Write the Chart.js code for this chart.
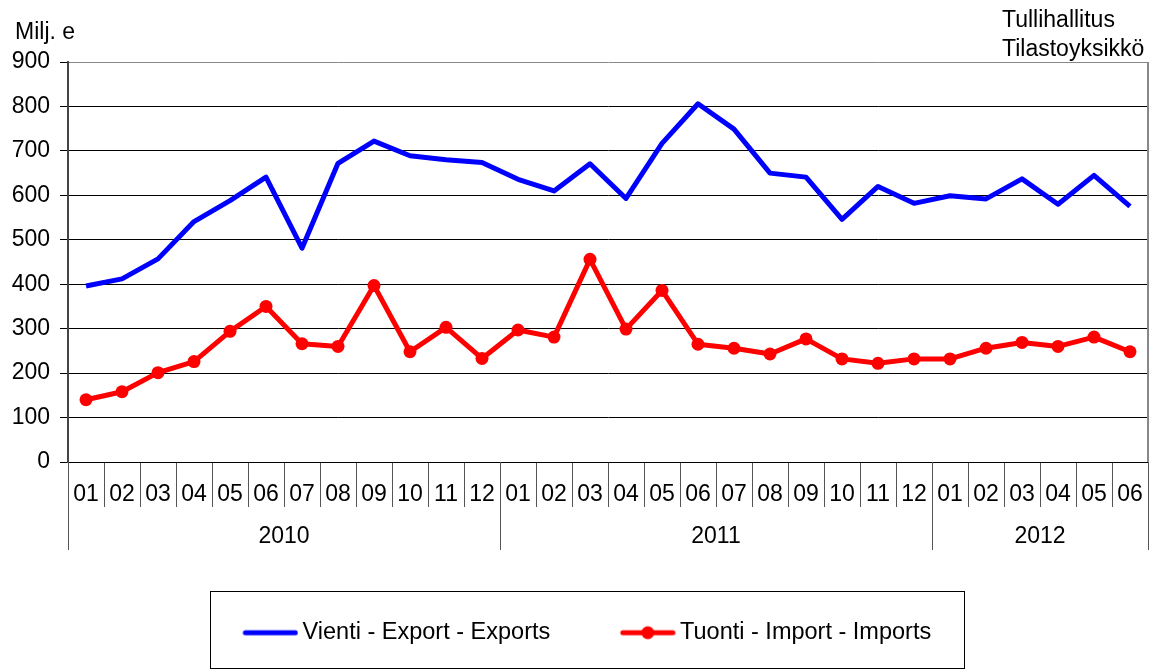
<!DOCTYPE html>
<html>
<head>
<meta charset="utf-8">
<title>Vienti ja tuonti</title>
<script src="https://cdn.jsdelivr.net/npm/chart.js@4.4.1/dist/chart.umd.min.js"></script>
<style>
  html, body { margin: 0; padding: 0; background: #fff; }
</style>
</head>
<body>
<canvas id="chart" width="1160" height="672"></canvas>
<script>
const months = ['01','02','03','04','05','06','07','08','09','10','11','12',
                '01','02','03','04','05','06','07','08','09','10','11','12',
                '01','02','03','04','05','06'];
const years = ['2010', '2011', '2012'];
const monthsInYear = [12, 12, 6];

const exportsData = [396, 412, 457, 541, 588, 641, 481, 672, 722, 689, 680, 674,
                     636, 610, 671, 593, 717, 806, 749, 650, 641, 546, 620, 582,
                     599, 592, 637, 580, 645, 575];
const importsData = [140, 158, 201, 226, 294, 350, 266, 260, 397, 248, 303, 233,
                     297, 281, 456, 299, 386, 265, 256, 243, 277, 232, 222, 232,
                     232, 256, 269, 260, 281, 248];

const FONT = '"Liberation Sans", Arial, sans-serif';
const KEY_W = 74;

// small picture for the legend: line (and dot) just left of the text
function legendKey(color, withDot) {
    const c = document.createElement('canvas');
    c.width = 89;
    c.height = 16;
    const g = c.getContext('2d');
    g.strokeStyle = color;
    g.lineWidth = 5;
    g.lineCap = 'round';
    g.beginPath();
    g.moveTo(36, 8);
    g.lineTo(86, 8);
    g.stroke();
    if (withDot) {
        g.fillStyle = color;
        g.beginPath();
        g.arc(61, 8, 6.5, 0, Math.PI * 2);
        g.fill();
    }
    return c;
}
const keys = [legendKey('#0000ff', false), legendKey('#ff0000', true)];

const extras = {
    id: 'extras',
    afterDraw(chart) {
        const ctx = chart.ctx;
        const xs = chart.scales.x;
        const area = chart.chartArea;
        ctx.save();

        // right edge of the plot
        ctx.strokeStyle = '#888';
        ctx.lineWidth = 2;
        ctx.beginPath();
        ctx.moveTo(area.right, area.top);
        ctx.lineTo(area.right, area.bottom);
        ctx.stroke();

        // year row under the months
        ctx.strokeStyle = '#555';
        ctx.lineWidth = 1;
        ctx.fillStyle = '#000';
        ctx.font = '23px ' + FONT;
        ctx.textAlign = 'center';
        ctx.textBaseline = 'middle';
        const half = (xs.getPixelForValue(1) - xs.getPixelForValue(0)) / 2;
        let start = 0;
        years.forEach((yr, i) => {
            const x0 = xs.getPixelForValue(start) - half;
            const x1 = xs.getPixelForValue(start + monthsInYear[i] - 1) + half;
            [x0, x1].forEach(px => {
                const p = Math.round(px) + 0.5;
                ctx.beginPath();
                ctx.moveTo(p, area.bottom);
                ctx.lineTo(p, area.bottom + 88);
                ctx.stroke();
            });
            ctx.fillText(yr, (x0 + x1) / 2, area.bottom + 75);
            start += monthsInYear[i];
        });

        // texts at the top
        ctx.textAlign = 'left';
        ctx.fillText('Milj. e', 15, 33);
        ctx.fillText('Tullihallitus', 1002, 21);
        ctx.fillText('Tilastoyksikkö', 1002, 50);

        // frame round the legend
        const hb = chart.legend.legendHitBoxes;
        if (hb && hb.length) {
            const cy = hb[0].top + hb[0].height / 2;
            const last = hb[hb.length - 1];
            const left = Math.round(hb[0].left + KEY_W - 47.5 - 33) + 0.5;
            const right = Math.round(last.left + last.width + 33) + 0.5;
            const top = Math.round(cy - 42) + 0.5;
            const bottom = Math.round(cy + 35) + 0.5;
            ctx.strokeStyle = '#000';
            ctx.lineWidth = 1;
            ctx.strokeRect(left, top, right - left, bottom - top);
        }
        ctx.restore();
    }
};

new Chart(document.getElementById('chart'), {
    type: 'line',
    data: {
        labels: months,
        datasets: [{
            label: 'Vienti - Export - Exports',
            data: exportsData,
            borderColor: '#0000ff',
            backgroundColor: '#0000ff',
            borderWidth: 5,
            pointRadius: 0,
            tension: 0,
            borderJoinStyle: 'round'
        }, {
            label: 'Tuonti - Import - Imports',
            data: importsData,
            borderColor: '#ff0000',
            backgroundColor: '#ff0000',
            borderWidth: 5,
            pointRadius: 6.5,
            pointBorderWidth: 0,
            pointBackgroundColor: '#ff0000',
            tension: 0,
            borderJoinStyle: 'round'
        }]
    },
    options: {
        responsive: false,
        animation: false,
        layout: {
            padding: { left: 0, right: 12, top: 62, bottom: 17.5 }
        },
        scales: {
            x: {
                offset: true,
                grid: { offset: true, drawOnChartArea: false, color: '#555', tickLength: 45 },
                border: { color: '#000', width: 1 },
                ticks: {
                    color: '#000',
                    font: { size: 23, family: FONT },
                    padding: -26,
                    autoSkip: false,
                    maxRotation: 0
                },
                afterFit: function (s) { s.height = 115; }
            },
            y: {
                min: 0,
                max: 900,
                ticks: {
                    stepSize: 100,
                    color: '#000',
                    font: { size: 23, family: FONT },
                    padding: 10
                },
                grid: {
                    color: c => (c.tick && c.tick.value === 900) ? '#888' : '#000',
                    tickColor: '#000',
                    tickLength: 8,
                    lineWidth: 1
                },
                border: { color: '#444', width: 2 },
                afterFit: function (s) { s.width = 68; }
            }
        },
        plugins: {
            tooltip: { enabled: false },
            legend: {
                position: 'bottom',
                labels: {
                    usePointStyle: true,
                    pointStyleWidth: KEY_W,
                    padding: 44,
                    color: '#000',
                    font: { size: 23.5, family: FONT },
                    generateLabels: function (chart) {
                        const items = Chart.defaults.plugins.legend.labels.generateLabels(chart);
                        items.forEach((it, i) => { it.pointStyle = keys[i]; });
                        return items;
                    }
                }
            }
        }
    },
    plugins: [extras]
});
</script>
</body>
</html>
